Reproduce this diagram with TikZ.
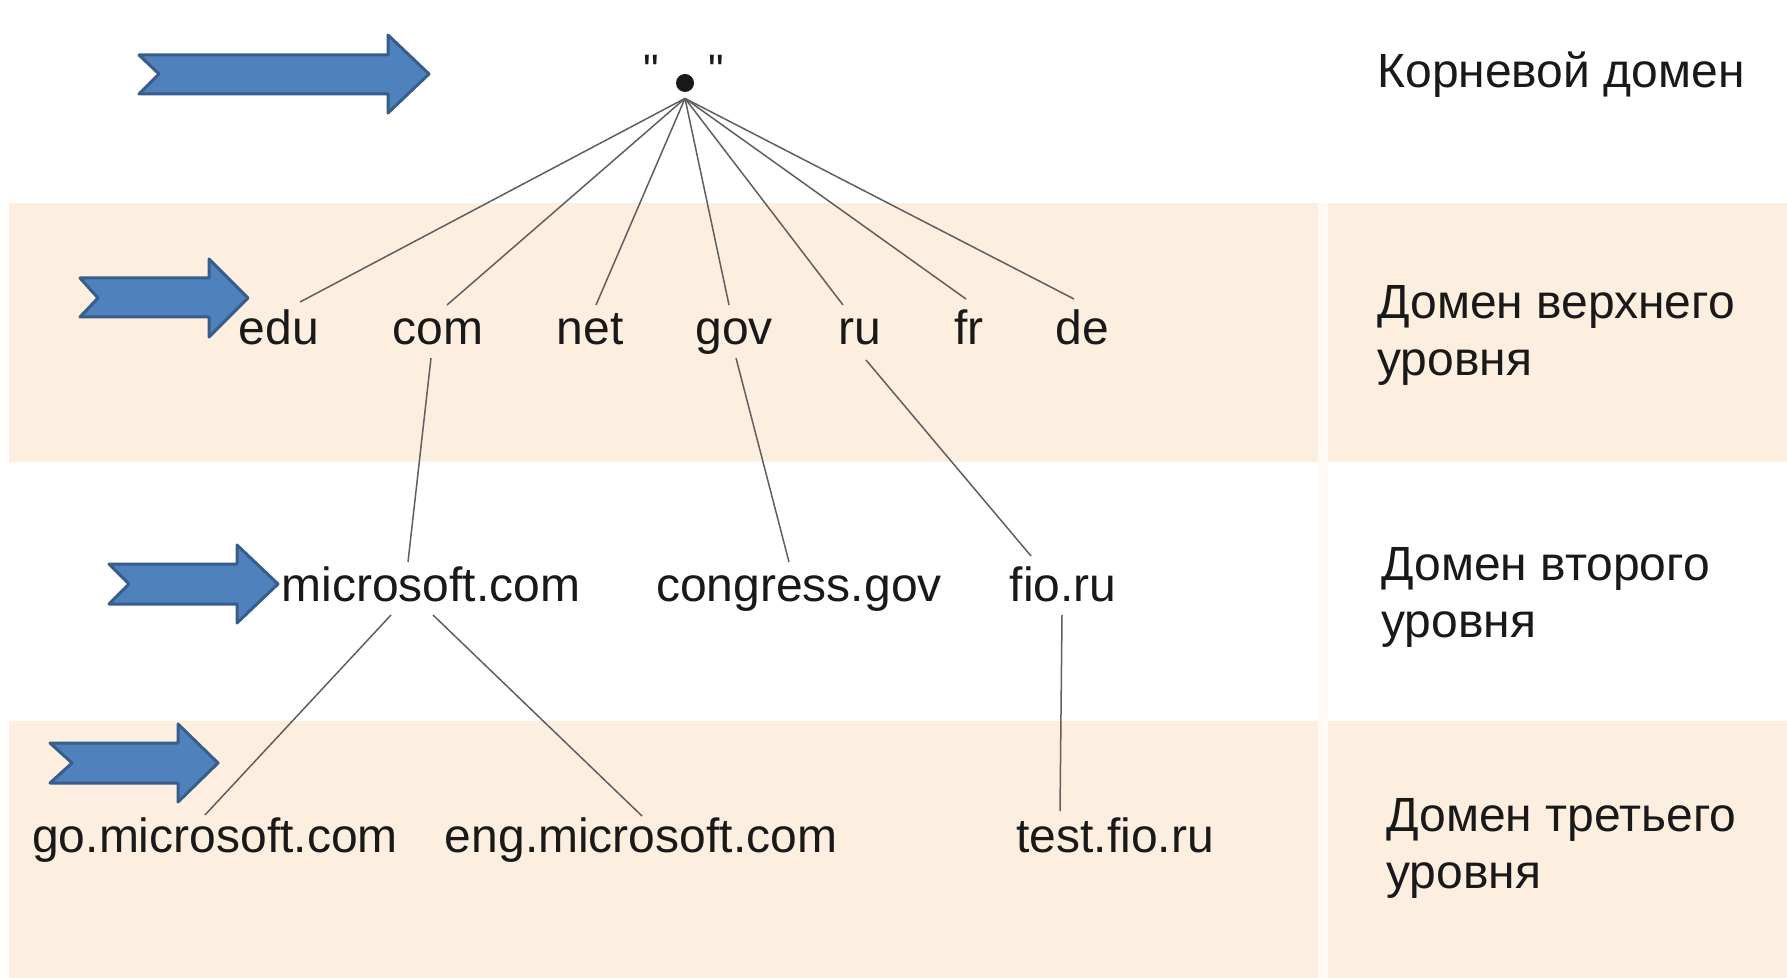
\documentclass[tikz,border=0pt]{standalone}
\usepackage{fontspec}
\setmainfont{Liberation Sans}
\newfontfamily\qfont{Liberation Sans}
\usetikzlibrary{calc}
\definecolor{peach}{RGB}{252,239,224}
\definecolor{arrfill}{RGB}{79,129,189}
\definecolor{arrline}{RGB}{56,93,138}
\definecolor{linkc}{RGB}{95,95,95}
\definecolor{txt}{RGB}{25,25,25}
\begin{document}
\begin{tikzpicture}[x=0.5pt,y=-0.5pt,
  lbl/.style={anchor=base,inner sep=0pt,font=\fontsize{24}{29}\selectfont,text=txt},
  side/.style={anchor=north west,inner sep=0pt,align=left,font=\fontsize{24}{28.5}\selectfont,text=txt},
  link/.style={draw=linkc,line width=0.75pt},
  bigarrow/.style={fill=arrfill,draw=arrline,line width=1.5pt,line join=round}]
\useasboundingbox (0,0) rectangle (1787,978);
\fill[white] (0,0) rectangle (1787,978);
% bands
\fill[peach] (9,203) rectangle (1787,462);
\fill[peach] (9,721) rectangle (1787,978);
\fill[peach!40] (1318,203) rectangle (1328,978);
% block arrows
\draw[bigarrow] (139,55) -- (388,55) -- (388,35) -- (429,74) -- (388,113) -- (388,94) -- (139,94) -- (159,74) -- cycle;
\draw[bigarrow] (80,278) -- (209,278) -- (209,259) -- (248,298) -- (209,337) -- (209,317) -- (80,317) -- (98,298) -- cycle;
\draw[bigarrow] (109,564) -- (237,564) -- (237,545) -- (278,584) -- (237,623) -- (237,604) -- (109,604) -- (129,584) -- cycle;
\draw[bigarrow] (50,743) -- (178,743) -- (178,724) -- (218,763) -- (178,802) -- (178,783) -- (50,783) -- (72,763) -- cycle;
% root
\node[circle,fill=txt,inner sep=0pt,minimum size=9pt] (root) at (685,83) {};
\node[lbl,font=\qfont\fontsize{22}{26}\selectfont] (q1) at (651,86) {"};
\node[lbl,font=\qfont\fontsize{22}{26}\selectfont] (q2) at (716,86) {"};
\coordinate (hub) at ([yshift=-3pt]root.south);
% top level
\node[lbl] (edu) at (279,345) {edu};
\node[lbl] (com) at (438,345) {com};
\node[lbl] (net) at (590,345) {net};
\node[lbl] (gov) at (734,345) {gov};
\node[lbl] (ru)  at (860,345) {ru};
\node[lbl] (fr)  at (969,345) {fr};
\node[lbl] (de)  at (1082,345) {de};
% second level
\node[lbl] (ms)  at (431,601) {microsoft.com};
\node[lbl] (cg)  at (799,601) {congress.gov};
\node[lbl] (fio) at (1063,601) {fio.ru};
% third level
\node[lbl] (goms)  at (215,852) {go.microsoft.com};
\node[lbl] (engms) at (641,852) {eng.microsoft.com};
\node[lbl] (test)  at (1115,852) {test.fio.ru};
% side labels
\node[lbl,anchor=base west] (l0) at (1377,88) {Корневой домен};
\node[side] (l1) at (1377,285) {Домен верхнего\\уровня};
\node[side] (l2) at (1381,547) {Домен второго\\уровня};
\node[side] (l3) at (1386,798) {Домен третьего\\уровня};
% connectors
\draw[link] (hub) -- ([shift={(21,-43)}]edu.base);
\draw[link] (hub) -- ([shift={(9,-40)}]com.base);
\draw[link] (hub) -- ([shift={(6,-40)}]net.base);
\draw[link] (hub) -- ([shift={(-5,-40)}]gov.base);
\draw[link] (hub) -- ([shift={(-17,-40)}]ru.base);
\draw[link] (hub) -- ([shift={(-3,-46)}]fr.base);
\draw[link] (hub) -- ([shift={(-8,-46)}]de.base);
\draw[link] ([shift={(-7,13)}]com.base) -- ([shift={(-23,-39)}]ms.base);
\draw[link] ([shift={(2,13)}]gov.base) -- ([shift={(-10,-39)}]cg.base);
\draw[link] ([shift={(6,15)}]ru.base) -- ([shift={(-32,-45)}]fio.base);
\draw[link] ([shift={(-40,14)}]ms.base) -- ([shift={(-10,-37)}]goms.base);
\draw[link] ([shift={(2,14)}]ms.base) -- ([shift={(1,-36)}]engms.base);
\draw[link] ([shift={(-1,14)}]fio.base) -- ([shift={(-55,-41)}]test.base);
\end{tikzpicture}
\end{document}
